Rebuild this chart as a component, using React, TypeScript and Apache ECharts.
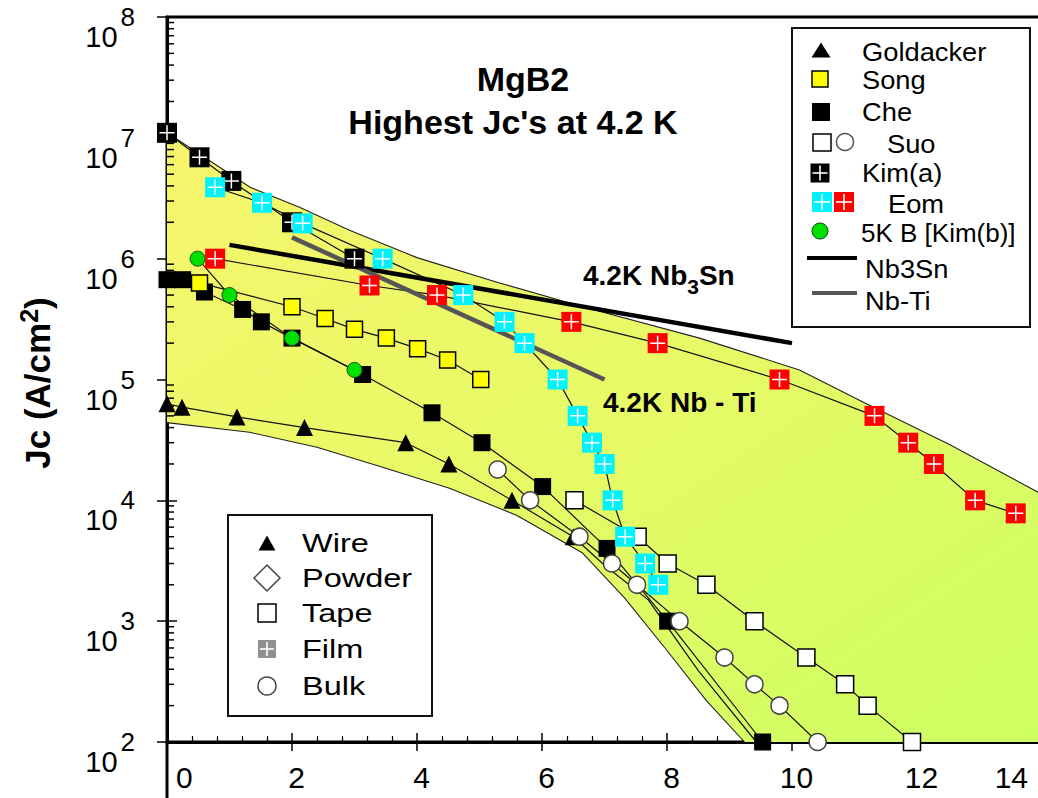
import React, { useEffect, useRef } from 'react';
import * as echarts from 'echarts';

const FONT = '"Liberation Sans", Arial, Helvetica, sans-serif';

// ---------- data (x = field / T, y = Jc in A/cm2) ----------
const xTickLabels = ['0', '2', '4', '6', '8', '10', '12', '14'];
const yDecades = [2, 3, 4, 5, 6, 7, 8];

const goldacker: [number, number][] = [[0, 6.3e4], [0.24, 5.9e4], [1.12, 4.9e4], [2.2, 4.0e4], [3.82, 3.0e4], [4.51, 2.0e4], [5.52, 1.0e4], [6.5, 5.0e3]];
const goldackerExt: [number, number][] = [[6.5, 5.0e3], [7.0, 2.9e3], [7.7, 1.5e3], [8.5, 3.9e2], [9.43, 100]];
const song: [number, number][] = [[0.52, 6.3e5], [2.0, 4.0e5], [2.53, 3.2e5], [3.0, 2.6e5], [3.51, 2.2e5], [4.01, 1.8e5], [4.49, 1.45e5], [5.02, 1.0e5]];
const che: [number, number][] = [[0, 6.7e5], [0.25, 6.7e5], [0.6, 5.3e5], [1.21, 3.8e5], [1.51, 3.0e5], [2.0, 2.2e5], [3.13, 1.1e5], [4.24, 5.3e4], [5.04, 3.0e4], [6.01, 1.3e4], [7.04, 4.0e3], [8.01, 1.0e3], [9.53, 100]];
const suoTape: [number, number][] = [[6.52, 1.0e4], [7.53, 5.0e3], [8.01, 3.0e3], [8.63, 2.0e3], [9.4, 1.0e3], [10.23, 5.0e2], [10.85, 3.0e2], [11.21, 2.0e2], [11.92, 100]];
const suoBulk: [number, number][] = [[5.29, 1.8e4], [5.81, 1.0e4], [6.6, 5.0e3], [7.12, 3.0e3], [7.52, 2.0e3], [8.2, 1.0e3], [8.92, 5.0e2], [9.4, 3.0e2], [9.8, 2.0e2], [10.41, 100]];
const kimA: [number, number][] = [[0, 1.1e7], [0.52, 6.9e6], [1.03, 4.4e6], [2.0, 2.0e6], [3.0, 1.0e6]];
const eomCyan: [number, number][] = [[0.77, 3.9e6], [1.52, 2.9e6], [2.17, 1.96e6], [3.45, 1.0e6], [4.74, 5.0e5], [5.4, 3.0e5], [5.72, 2.0e5], [6.25, 1.0e5], [6.57, 5.0e4], [6.8, 3.0e4], [7.0, 2.0e4], [7.13, 1.0e4], [7.33, 5.0e3], [7.65, 3.0e3], [7.86, 2.0e3]];
const eomRed: [number, number][] = [[0.77, 1.0e6], [3.24, 6.0e5], [4.32, 5.0e5], [6.47, 3.0e5], [7.85, 2.0e5], [9.8, 1.0e5], [11.32, 5.0e4], [11.86, 3.0e4], [12.27, 2.0e4], [12.93, 1.0e4], [13.58, 7.8e3]];
const kimB: [number, number][] = [[0.49, 1.0e6], [1.0, 5.0e5], [2.0, 2.2e5], [3.0, 1.2e5]];
const nb3sn: [number, number][] = [[1.0, 1.3e6], [10.0, 2.0e5]];
const nbti: [number, number][] = [[2.0, 1.5e6], [7.0, 1.0e5]];
const upperEnv: [number, number][] = [[0, 1.1e7], [1.33, 3.9e6], [2.12, 2.66e6], [2.92, 1.72e6], [4.0, 1.02e6], [5.32, 6.3e5], [6.65, 4.0e5], [8.52, 2.2e5], [10.12, 1.2e5], [11.19, 6.3e4], [12.52, 2.9e4], [13.93, 1.17e4], [14.5, 6.0e3]];
const lowerEnv: [number, number][] = [[0, 4.4e4], [1.32, 3.66e4], [2.4, 2.75e4], [3.45, 1.88e4], [4.52, 1.26e4], [5.6, 7.5e3], [6.65, 3.66e3], [7.32, 1.56e3], [7.99, 5.8e2], [8.63, 2.2e2], [9.24, 100]];
const bandFloor: [number, number][] = [[14.5, 100]];

const minorMultipliers = [2, 3, 4, 5, 6, 7, 8, 9];

const CROSS = 'path://M9,0H11V20H9Z M0,9H20V11H0Z';

function buildOption() {
  const yMinor: [number, number][] = [];
  yDecades.slice(0, -1).forEach((e) => minorMultipliers.forEach((m) => yMinor.push([0, m * Math.pow(10, e)])));

  const dataLine = (d: [number, number][], z = 3) => ({
    type: 'line', data: d, symbol: 'none', silent: true, z,
    lineStyle: { color: '#111', width: 1.2 },
  });
  const marks = (d: [number, number][], symbol: string, size: number, color: string, z: number, border?: string, bw?: number) => ({
    type: 'scatter', data: d, symbol, symbolSize: size, z, clip: false, silent: true,
    itemStyle: { color, borderColor: border || color, borderWidth: bw || 0, opacity: 1 },
  });
  const cross = (d: [number, number][], z: number) => ({
    type: 'scatter', data: d, symbol: CROSS, symbolSize: 15, z, clip: false, silent: true,
    itemStyle: { color: '#ffffff', opacity: 1 },
  });

  const fill = new echarts.graphic.LinearGradient(0, 0, 1, 1, [
    { offset: 0, color: '#f7f56c' },
    { offset: 0.5, color: '#e6fa66' },
    { offset: 1, color: '#ccff62' },
  ]);

  const txt = (x: number, y: number, text: string, size: number, scaleX = 1, extra: any = {}) => ({
    type: 'text', x, y, scaleX, z: 100,
    style: { text, fontSize: size, fontFamily: FONT, fill: '#000', align: 'left', verticalAlign: 'middle', ...extra },
  });
  const crossSquare = (cx: number, cy: number, s: number, color: string) => [
    { type: 'rect', z: 101, shape: { x: cx - s / 2, y: cy - s / 2, width: s, height: s }, style: { fill: color } },
    { type: 'rect', z: 102, shape: { x: cx - 0.8, y: cy - s / 2 + 2, width: 1.6, height: s - 4 }, style: { fill: '#fff' } },
    { type: 'rect', z: 102, shape: { x: cx - s / 2 + 2, y: cy - 0.8, width: s - 4, height: 1.6 }, style: { fill: '#fff' } },
  ];
  const tri = (cx: number, cy: number, w: number, h: number) => ({
    type: 'polygon', z: 100, shape: { points: [[cx, cy - h / 2], [cx + w / 2, cy + h / 2], [cx - w / 2, cy + h / 2]] }, style: { fill: '#000' },
  });

  const legendTR = [
    { type: 'rect', z: 99, shape: { x: 792, y: 28, width: 238, height: 299 }, style: { fill: '#fff', stroke: '#111', lineWidth: 2 } },
    tri(821, 50, 19, 15), txt(862, 52, 'Goldacker', 26, 1.05),
    { type: 'rect', z: 100, shape: { x: 812, y: 71, width: 16, height: 16 }, style: { fill: '#ffff00', stroke: '#000', lineWidth: 1.5 } },
    txt(862, 80, 'Song', 26, 1.05),
    { type: 'rect', z: 100, shape: { x: 812, y: 103, width: 18, height: 18 }, style: { fill: '#000' } },
    txt(862, 112, 'Che', 26, 1.05),
    { type: 'rect', z: 100, shape: { x: 813, y: 134, width: 18, height: 17 }, style: { fill: '#fff', stroke: '#000', lineWidth: 1.5 } },
    { type: 'circle', z: 100, shape: { cx: 845, cy: 142, r: 8.5 }, style: { fill: '#fff', stroke: '#555', lineWidth: 1.5 } },
    txt(887, 144, 'Suo', 26, 1.05),
    ...crossSquare(820, 173, 19, '#000'),
    txt(862, 173, 'Kim(a)', 26, 1.05),
    ...crossSquare(822, 202, 20, '#00f2ff'),
    ...crossSquare(844, 202, 20, '#ff0000'),
    txt(888, 204, 'Eom', 26, 1.05),
    { type: 'circle', z: 100, shape: { cx: 820, cy: 231, r: 8 }, style: { fill: '#00e000', stroke: '#114411', lineWidth: 1 } },
    txt(861, 233, '5K B [Kim(b)]', 26, 1.0),
    { type: 'line', z: 100, shape: { x1: 807, y1: 258, x2: 857, y2: 258 }, style: { stroke: '#000', lineWidth: 4 } },
    txt(865, 269, 'Nb3Sn', 26, 1.05),
    { type: 'line', z: 100, shape: { x1: 812, y1: 293, x2: 857, y2: 293 }, style: { stroke: '#555', lineWidth: 4 } },
    txt(865, 301, 'Nb-Ti', 26, 1.05),
  ];

  const legendBL = [
    { type: 'rect', z: 99, shape: { x: 228, y: 515, width: 204, height: 201 }, style: { fill: '#fff', stroke: '#111', lineWidth: 2 } },
    tri(267, 543, 17, 15), txt(302, 543, 'Wire', 26, 1.25),
    { type: 'polygon', z: 100, shape: { points: [[267, 565], [280, 578], [267, 591], [254, 578]] }, style: { fill: '#fff', stroke: '#444', lineWidth: 1.5 } },
    txt(302, 578, 'Powder', 26, 1.25),
    { type: 'rect', z: 100, shape: { x: 258, y: 604, width: 18, height: 18 }, style: { fill: '#fff', stroke: '#000', lineWidth: 1.5 } },
    txt(302, 613, 'Tape', 26, 1.25),
    ...crossSquare(267, 649, 18, '#909090'),
    txt(302, 649, 'Film', 26, 1.25),
    { type: 'circle', z: 100, shape: { cx: 267, cy: 686, r: 9 }, style: { fill: '#fff', stroke: '#444', lineWidth: 1.5 } },
    txt(302, 686, 'Bulk', 26, 1.25),
  ];

  const annotations = [
    { type: 'text', x: 523, y: 79, z: 100, style: { text: 'MgB2', fontSize: 34, fontWeight: 'bold', fontFamily: FONT, fill: '#000', align: 'center', verticalAlign: 'middle' } },
    { type: 'text', x: 513, y: 122, z: 100, style: { text: "Highest Jc's at 4.2 K", fontSize: 34, fontWeight: 'bold', fontFamily: FONT, fill: '#000', align: 'center', verticalAlign: 'middle' } },
    {
      type: 'text', x: 583, y: 275, z: 100,
      style: {
        text: '{a|4.2K Nb}{s|3}{a|Sn}', verticalAlign: 'middle', align: 'left',
        rich: {
          a: { fontSize: 28, fontWeight: 'bold', fontFamily: FONT, fill: '#000' },
          s: { fontSize: 21, fontWeight: 'bold', fontFamily: FONT, fill: '#000', padding: [22, 0, 0, 0] },
        },
      },
    },
    { type: 'text', x: 603, y: 402, z: 100, style: { text: '4.2K Nb - Ti', fontSize: 28, fontWeight: 'bold', fontFamily: FONT, fill: '#000', align: 'left', verticalAlign: 'middle' } },
    {
      type: 'text', x: 37, y: 383, rotation: Math.PI / 2, z: 100,
      style: {
        text: '{a|Jc (A/cm}{s|2}{a|)}', align: 'center', verticalAlign: 'middle',
        rich: {
          a: { fontSize: 35, fontWeight: 'bold', fontFamily: FONT, fill: '#000' },
          s: { fontSize: 25, fontWeight: 'bold', fontFamily: FONT, fill: '#000', padding: [0, 0, 17, 0] },
        },
      },
    },
    { type: 'line', z: 100, shape: { x1: 167, y1: 742, x2: 167, y2: 800 }, style: { stroke: '#000', lineWidth: 3 } },
  ];

  return {
    animation: false,
    backgroundColor: '#ffffff',
    grid: { left: 167, top: 17, width: 875, height: 725, show: true, borderColor: '#000', borderWidth: 3, backgroundColor: 'transparent' },
    xAxis: [
      {
        type: 'value', min: 0, max: 14, interval: 2, position: 'bottom',
        axisLine: { show: true, onZero: false, lineStyle: { color: '#000', width: 3 } },
        axisTick: { show: true, inside: true, length: 9, lineStyle: { color: '#000', width: 1.5 } },
        minorTick: { show: true, splitNumber: 5, length: 6, lineStyle: { color: '#000', width: 1.2 } },
        axisLabel: {
          show: true, margin: 20, alignMinLabel: 'left', alignMaxLabel: 'right',
          formatter: (v: number) => {
            const s = xTickLabels[Math.round(v / 2)] ?? String(v);
            return v >= 14 ? `{m|${s}}` : `{n|${s}}`;
          },
          rich: {
            n: { fontSize: 30, fontFamily: FONT, color: '#000', padding: [0, 0, 0, 9] },
            m: { fontSize: 30, fontFamily: FONT, color: '#000', padding: [0, 14, 0, 0] },
          },
        },
        splitLine: { show: false },
      },
      {
        type: 'value', min: 0, max: 14, interval: 2, position: 'bottom',
        axisLine: { show: false, onZero: false },
        axisTick: { show: true, inside: false, length: 9, lineStyle: { color: '#000', width: 1.5 } },
        axisLabel: { show: false }, splitLine: { show: false },
      },
    ],
    yAxis: [
      {
        type: 'log', logBase: 10, min: 100, max: 1e8, splitNumber: 6, position: 'left',
        axisLine: { show: true, onZero: false, lineStyle: { color: '#000', width: 3 } },
        axisTick: { show: true, inside: true, length: 10, lineStyle: { color: '#000', width: 1.5 } },
        axisLabel: {
          show: true, margin: 32, color: '#000',
          formatter: (v: number) => `{b|10}{s|${Math.round(Math.log10(v))}}`,
          rich: {
            b: { fontSize: 29, fontFamily: FONT, color: '#000', padding: [40, 0, 0, 0] },
            s: { fontSize: 26, fontFamily: FONT, color: '#000', padding: [0, 0, 0, 3] },
          },
        },
        splitLine: { show: false },
      },
      {
        type: 'log', logBase: 10, min: 100, max: 1e8, splitNumber: 6, position: 'left',
        axisLine: { show: false, onZero: false },
        axisTick: { show: true, inside: false, length: 10, lineStyle: { color: '#000', width: 1.5 } },
        axisLabel: { show: false }, splitLine: { show: false },
      },
    ],
    graphic: { elements: [...legendTR, ...legendBL, ...annotations] },
    series: [
      {
        type: 'custom', data: [[1, 1000]], z: 1, silent: true, clip: true,
        renderItem: (_p: any, api: any) => {
          const pts = [...upperEnv, ...bandFloor, ...lowerEnv.slice().reverse()].map((p) => api.coord(p));
          return { type: 'polygon', shape: { points: pts }, style: { fill } };
        },
      },
      {
        type: 'custom', data: yMinor, z: 10, silent: true, clip: false,
        renderItem: (_p: any, api: any) => {
          const p = api.coord([api.value(0), api.value(1)]);
          return { type: 'line', shape: { x1: p[0], y1: p[1], x2: p[0] + 7, y2: p[1] }, style: { stroke: '#000', lineWidth: 1.5 } };
        },
      },
      { type: 'line', data: upperEnv, symbol: 'none', silent: true, z: 2, lineStyle: { color: '#222', width: 1.1 } },
      { type: 'line', data: lowerEnv, symbol: 'none', silent: true, z: 2, lineStyle: { color: '#222', width: 1.1 } },
      dataLine(goldacker), dataLine(goldackerExt), dataLine(song), dataLine(che), dataLine(suoTape), dataLine(suoBulk),
      dataLine(kimA), dataLine(eomCyan), dataLine(eomRed), dataLine(kimB),
      { type: 'line', data: nb3sn, symbol: 'none', silent: true, z: 4, lineStyle: { color: '#000', width: 4.5 } },
      { type: 'line', data: nbti, symbol: 'none', silent: true, z: 4, lineStyle: { color: '#555', width: 4.5 } },
      marks(goldacker, 'triangle', 17, '#000', 5),
      marks(che, 'rect', 17, '#000', 6),
      marks(song, 'rect', 16, '#ffff00', 7, '#000', 1.5),
      marks(kimB, 'circle', 15, '#00e000', 8, '#1a4d1a', 1),
      marks(suoTape, 'rect', 17, '#ffffff', 9, '#000', 1.5),
      marks(suoBulk, 'circle', 17, '#ffffff', 10, '#444', 1.5),
      marks(kimA, 'rect', 20, '#000', 11), cross(kimA, 12),
      marks(eomCyan, 'rect', 20, '#00f2ff', 13), cross(eomCyan, 14),
      marks(eomRed, 'rect', 20, '#ff0000', 15), cross(eomRed, 16),
    ],
  };
}

export default function App() {
  const ref = useRef<HTMLDivElement>(null);
  useEffect(() => {
    if (!ref.current) return;
    const chart = echarts.init(ref.current, null, { renderer: 'svg' });
    chart.setOption(buildOption() as any);
    return () => chart.dispose();
  }, []);
  return (
    <div style={{ position: 'fixed', left: 0, top: 0, width: 1038, height: 798, overflow: 'hidden', background: '#fff' }}>
      <div ref={ref} style={{ width: 1060, height: 798 }} />
    </div>
  );
}
